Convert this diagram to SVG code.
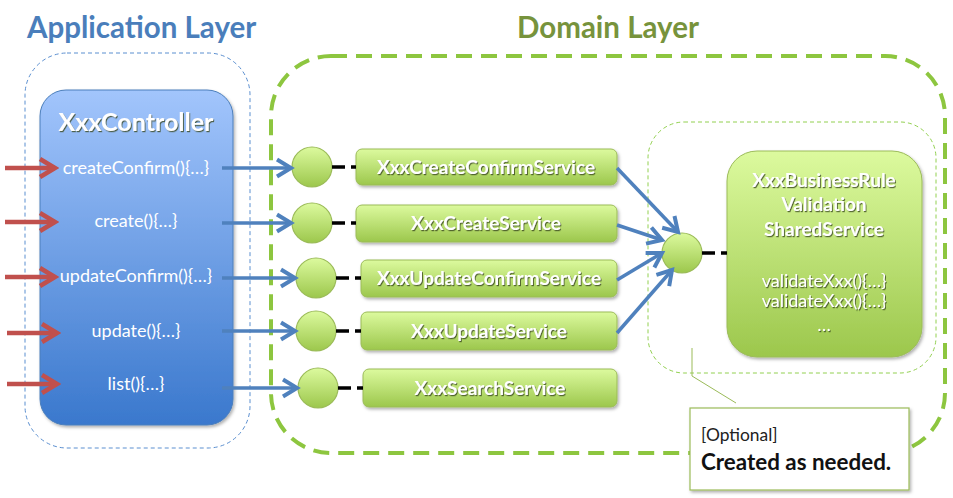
<svg xmlns="http://www.w3.org/2000/svg" width="953" height="498" viewBox="0 0 953 498">
<defs>
<linearGradient id="gBlue" x1="0" y1="0" x2="0" y2="1">
<stop offset="0" stop-color="#a2c5fc"/>
<stop offset="1" stop-color="#3a78cd"/>
</linearGradient>
<linearGradient id="gGreen" x1="0" y1="0" x2="0" y2="1">
<stop offset="0" stop-color="#dcfa9e"/>
<stop offset="1" stop-color="#9cc74c"/>
</linearGradient>
<filter id="ts" x="-10%" y="-20%" width="130%" height="150%">
<feDropShadow dx="1" dy="1.2" stdDeviation="0.6" flood-color="#3a4a20" flood-opacity="0.8"/>
</filter>
<filter id="bs" x="-10%" y="-10%" width="130%" height="130%">
<feDropShadow dx="1.5" dy="2" stdDeviation="1.5" flood-color="#000" flood-opacity="0.3"/>
</filter>
<marker id="aRed" viewBox="0 0 22 22" refX="18" refY="11" markerWidth="22" markerHeight="22" markerUnits="userSpaceOnUse" orient="auto">
<path d="M3,2 L18,11 L3,20" fill="none" stroke="#c0504d" stroke-width="4.5" stroke-linejoin="miter"/>
</marker>
<marker id="aBlue" viewBox="0 0 22 22" refX="18" refY="11" markerWidth="22" markerHeight="22" markerUnits="userSpaceOnUse" orient="auto">
<path d="M4,2.5 L18,11 L4,19.5" fill="none" stroke="#4f81bd" stroke-width="4"/>
</marker>
</defs>
<style>
.title{font-family:Lato,"Open Sans",sans-serif;font-weight:bold;font-size:29.5px}
.wb{font-family:Lato,"Open Sans",sans-serif;font-weight:bold;fill:#fff;text-anchor:middle}
.wm{font-family:Lato,"Open Sans",sans-serif;fill:#fff;font-size:18px;text-anchor:middle}
.svc{fill:url(#gGreen);stroke:#9bbb59;stroke-width:1}
.circ{fill:url(#gGreen);stroke:#9bbb59;stroke-width:1.2}
.red{stroke:#c0504d;stroke-width:4.5;fill:none}
.blue{stroke:#4f81bd;stroke-width:3.5;fill:none}
.blk{stroke:#000;stroke-width:3.5;stroke-dasharray:13,6;fill:none}
</style>
<rect width="953" height="498" fill="#fff"/>
<text class="title" x="27" y="38" fill="#4a7ebb">Application Layer</text>
<text class="title" x="517" y="38" fill="#77933c">Domain Layer</text>

<g id="appLayer">
<rect x="25" y="53" width="225" height="395" rx="42" fill="none" stroke="#5b8fd0" stroke-width="1" stroke-dasharray="4,3"/>
</g>
<g id="domainLayer">
<rect x="271" y="56" width="674" height="397" rx="60" fill="none" stroke="#8dc63f" stroke-width="4" stroke-dasharray="16,9"/>
</g>
<g id="sharedArea">
<rect x="648" y="122" width="288" height="251" rx="36" fill="none" stroke="#92d050" stroke-width="1" stroke-dasharray="4,3"/>
</g>

<g id="controller">
<rect x="40" y="90" width="193" height="335" rx="26" fill="url(#gBlue)" stroke="#4a7ebb" stroke-width="1" filter="url(#bs)"/>
<text class="wb" x="136" y="131" font-size="25" filter="url(#ts)">XxxController</text>
<text class="wm" x="136" y="174">createConfirm(){…}</text>
<text class="wm" x="136" y="227">create(){…}</text>
<text class="wm" x="136" y="282">updateConfirm(){…}</text>
<text class="wm" x="136" y="337">update(){…}</text>
<text class="wm" x="136" y="390">list(){…}</text>
</g>

<g id="svcCreateConfirm">
<circle class="circ" cx="312" cy="167" r="20"/>
<rect class="svc" x="356" y="149" width="261" height="36" rx="6" filter="url(#bs)"/>
<text class="wb" x="486" y="174" font-size="19" filter="url(#ts)">XxxCreateConfirmService</text>
</g>
<g id="svcCreate">
<circle class="circ" cx="312" cy="223" r="20"/>
<rect class="svc" x="356" y="205" width="261" height="37" rx="6" filter="url(#bs)"/>
<text class="wb" x="486" y="230" font-size="19" filter="url(#ts)">XxxCreateService</text>
</g>
<g id="svcUpdateConfirm">
<circle class="circ" cx="316" cy="278" r="20"/>
<rect class="svc" x="361" y="260" width="256" height="37" rx="6" filter="url(#bs)"/>
<text class="wb" x="489" y="285" font-size="19" filter="url(#ts)">XxxUpdateConfirmService</text>
</g>
<g id="svcUpdate">
<circle class="circ" cx="316" cy="331" r="20"/>
<rect class="svc" x="361" y="312" width="256" height="38" rx="6" filter="url(#bs)"/>
<text class="wb" x="489" y="338" font-size="19" filter="url(#ts)">XxxUpdateService</text>
</g>
<g id="svcSearch">
<circle class="circ" cx="318" cy="388" r="20"/>
<rect class="svc" x="363" y="369" width="254" height="38" rx="6" filter="url(#bs)"/>
<text class="wb" x="490" y="395" font-size="19" filter="url(#ts)">XxxSearchService</text>
</g>

<g id="sharedService">
<circle class="circ" cx="682" cy="253" r="20"/>
<rect x="727" y="151" width="195" height="206" rx="30" fill="url(#gGreen)" stroke="#9bbb59" stroke-width="1" filter="url(#bs)"/>
<text class="wb" x="824" y="187" font-size="19" filter="url(#ts)">XxxBusinessRule</text>
<text class="wb" x="824" y="211" font-size="19" filter="url(#ts)">Validation</text>
<text class="wb" x="824" y="236" font-size="19" filter="url(#ts)">SharedService</text>
<text class="wm" x="824" y="287" font-size="17.5" filter="url(#ts)">validateXxx(){…}</text>
<text class="wm" x="824" y="307" font-size="17.5" filter="url(#ts)">validateXxx(){…}</text>
<text class="wm" x="824" y="331" font-size="17.5" filter="url(#ts)">…</text>
</g>

<g id="callout">
<polyline points="692,348 692,376 736,403" fill="none" stroke="#9bbb59" stroke-width="1"/>
<rect x="690" y="408" width="219" height="82" fill="#fff" stroke="#9bbb59" stroke-width="1.2" filter="url(#bs)"/>
<text x="701" y="441" font-family="Lato,'Open Sans',sans-serif" font-size="17.4" fill="#222">[Optional]</text>
<text x="701" y="470" font-family="Lato,'Open Sans',sans-serif" font-size="22.4" font-weight="bold" fill="#111">Created as needed.</text>
</g>

<g id="connectors">
<line class="red" x1="5" y1="168" x2="55" y2="168" marker-end="url(#aRed)"/>
<line class="red" x1="5" y1="222" x2="55" y2="222" marker-end="url(#aRed)"/>
<line class="red" x1="5" y1="277" x2="55" y2="277" marker-end="url(#aRed)"/>
<line class="red" x1="7" y1="333" x2="57" y2="333" marker-end="url(#aRed)"/>
<line class="red" x1="7" y1="384" x2="57" y2="384" marker-end="url(#aRed)"/>
<line class="blue" x1="222" y1="168" x2="291" y2="168" marker-end="url(#aBlue)"/>
<line class="blue" x1="222" y1="223" x2="291" y2="223" marker-end="url(#aBlue)"/>
<line class="blue" x1="222" y1="278" x2="295" y2="278" marker-end="url(#aBlue)"/>
<line class="blue" x1="222" y1="331" x2="295" y2="331" marker-end="url(#aBlue)"/>
<line class="blue" x1="222" y1="388" x2="297" y2="388" marker-end="url(#aBlue)"/>
<line class="blk" x1="332" y1="167" x2="356" y2="167"/>
<line class="blk" x1="332" y1="223" x2="356" y2="223"/>
<line class="blk" x1="336" y1="278" x2="361" y2="278"/>
<line class="blk" x1="336" y1="331" x2="361" y2="331"/>
<line class="blk" x1="338" y1="388" x2="363" y2="388"/>
<line class="blk" x1="702" y1="253" x2="727" y2="253"/>
<line class="blue" x1="617" y1="168" x2="678" y2="232" marker-end="url(#aBlue)"/>
<line class="blue" x1="617" y1="225" x2="662" y2="240" marker-end="url(#aBlue)"/>
<line class="blue" x1="617" y1="280" x2="662" y2="253" marker-end="url(#aBlue)"/>
<line class="blue" x1="617" y1="333" x2="672" y2="270" marker-end="url(#aBlue)"/>
</g>
</svg>
